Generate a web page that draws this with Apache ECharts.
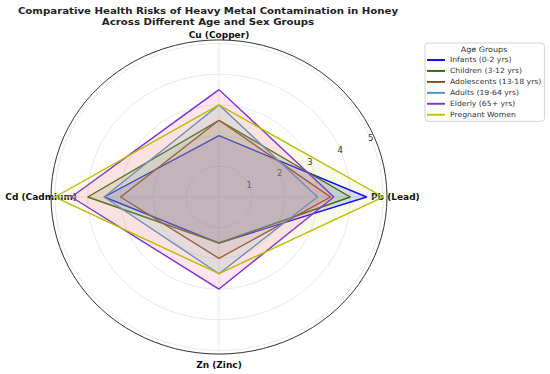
<!DOCTYPE html>
<html>
<head>
<meta charset="utf-8">
<script src="https://cdn.jsdelivr.net/npm/echarts@6/dist/echarts.min.js"></script>
<style>
html,body{margin:0;padding:0;background:#fff;overflow:hidden;}
#wrap{width:550px;height:374px;overflow:hidden;}
#chart{width:550px;height:400px;transform:scaleY(0.935);transform-origin:0 0;}
</style>
</head>
<body>
<div id="wrap"><div id="chart"></div></div>
<script>
// Axes in clockwise order starting at the top
const categories = ['Cu (Copper)', 'Pb (Lead)', 'Zn (Zinc)', 'Cd (Cadmium)'];
const groups = ['Infants (0-2 yrs)', 'Children (3-12 yrs)', 'Adolescents (13-18 yrs)', 'Adults (19-64 yrs)', 'Elderly (65+ yrs)', 'Pregnant Women'];
// values per group: [Cu, Pb, Zn, Cd]
const infants     = [2.0, 4.5, 1.5, 3.5];
const children    = [2.5, 4.0, 1.5, 4.0];
const adolescents = [2.5, 3.4, 2.0, 3.0];
const adults      = [3.0, 3.0, 2.5, 3.5];
const elderly     = [3.5, 3.5, 3.0, 4.5];
const pregnant    = [3.0, 5.0, 2.5, 5.0];
const radialTicks = [1, 2, 3, 4, 5];

const seriesValues = [infants, children, adolescents, adults, elderly, pregnant];
const lineColors = ['#0000ff', '#336600', '#8b4513', '#4a90c8', '#7e30d0', '#b8bf00'];
const fillColors = ['rgba(0,0,255,0.20)', 'rgba(51,153,0,0.20)', 'rgba(224,96,96,0.20)', 'rgba(64,192,224,0.20)', 'rgba(255,105,180,0.25)', 'rgba(208,208,64,0.14)'];

const angleStep = 360 / categories.length;
const rMax = 5.12;
const center = [219, 210.7];
const radius = 168;

const chart = echarts.init(document.getElementById('chart'), null, {renderer: 'svg'});

const series = seriesValues.map((vals, i) => {
  const pts = vals.map((v, k) => [v, k * angleStep]);
  pts.push([vals[0], 360]);
  return {
    name: groups[i],
    type: 'line',
    coordinateSystem: 'polar',
    polarIndex: 0,
    data: pts,
    symbol: 'none',
    lineStyle: {color: lineColors[i], width: 1.5},
    itemStyle: {color: lineColors[i]},
    areaStyle: {color: fillColors[i], origin: 'start'},
    z: 2 + i
  };
});

const labelFont = {fontFamily: 'DejaVu Sans', fontSize: 9, fontWeight: 'bold', color: '#111'};

const option = {
  animation: false,
  backgroundColor: '#fff',
  textStyle: {fontFamily: 'DejaVu Sans'},
  title: [
    {
      text: 'Comparative Health Risks of Heavy Metal Contamination in Honey\nAcross Different Age and Sex Groups',
      left: 208, top: 5, padding: 0, textAlign: 'center',
      textStyle: {fontFamily: 'DejaVu Sans', fontSize: 10.2, fontWeight: 'bold', color: '#222', lineHeight: 11.8}
    },
    {
      text: 'Age Groups',
      left: 484, top: 48.5, padding: 0, textAlign: 'center', z: 20,
      textStyle: {fontFamily: 'DejaVu Sans', fontSize: 8, fontWeight: 'normal', color: '#333'}
    }
  ],
  legend: {
    orient: 'vertical',
    left: 425, top: 46,
    padding: [12.7, 3, 1.5, 2],
    itemWidth: 18, itemHeight: 2,
    itemGap: 0.7,
    icon: 'rect',
    backgroundColor: '#fff',
    borderColor: '#d0d0d0', borderWidth: 1, borderRadius: 3,
    textStyle: {fontFamily: 'DejaVu Sans', fontSize: 7.7, color: '#333', lineHeight: 11},
    data: groups
  },
  polar: [
    {center: center, radius: radius},
    {center: center, radius: radius}
  ],
  angleAxis: [
    {
      polarIndex: 0,
      type: 'value', min: 0, max: 360, interval: angleStep,
      startAngle: 90, clockwise: true,
      axisLine: {show: true, lineStyle: {color: '#333', width: 1}},
      axisTick: {show: false},
      splitLine: {show: true, lineStyle: {color: '#e2e2e2', width: 0.8}},
      axisLabel: {
        margin: -26,
        formatter: function (v) {
          const k = Math.round(v / angleStep) % categories.length;
          const styles = ['t', 'r', 'b', 'l'];
          return '{' + styles[k] + '|' + categories[k] + '}';
        },
        rich: {
          t: Object.assign({padding: [0, 0, 27, 0]}, labelFont),
          r: Object.assign({padding: [0, 0, 0, 10]}, labelFont),
          b: Object.assign({padding: [33, 0, 0, 0]}, labelFont),
          l: Object.assign({padding: [0, 0, 0, 0]}, labelFont)
        }
      }
    },
    {
      polarIndex: 1,
      type: 'value', min: 0, max: 360, startAngle: 22.5,
      show: false
    }
  ],
  radiusAxis: [
    {
      polarIndex: 0,
      type: 'value', min: 0, max: rMax, interval: 1,
      axisLine: {show: false}, axisTick: {show: false}, axisLabel: {show: false},
      splitLine: {show: true, lineStyle: {color: '#e2e2e2', width: 0.8}}
    },
    {
      polarIndex: 1,
      type: 'value', min: 0, max: rMax, interval: 1,
      axisLine: {show: false}, axisTick: {show: false},
      splitLine: {show: false},
      axisLabel: {
        margin: 0,
        align: 'center',
        verticalAlign: 'middle',
        padding: [0, 0, 5, 0],
        fontFamily: 'DejaVu Sans', fontSize: 8.5, color: '#333',
        formatter: function (v) { return radialTicks.indexOf(v) >= 0 ? String(v) : ''; }
      }
    }
  ],
  series: series
};

chart.setOption(option);
</script>
</body>
</html>
